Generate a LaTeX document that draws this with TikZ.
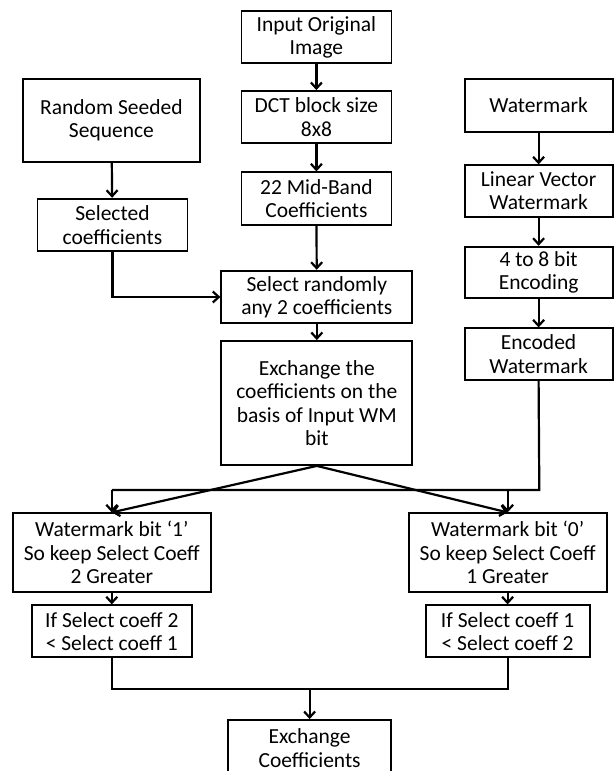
\documentclass[tikz,border=0pt]{standalone}
\usepackage{fontspec}
\setmainfont{Carlito}
\usetikzlibrary{arrows.meta}

\begin{document}
\begin{tikzpicture}[x=1pt,y=-1pt,
box/.style={draw,line width=1.8pt,align=center,inner sep=0pt,
font=\fontsize{21.5}{23.3}\selectfont},
arr/.style={line width=2.2pt,-{Straight Barb[length=6pt,width=11pt]}},
lin/.style={line width=2.2pt}
]
\useasboundingbox (0,0) rectangle (614,771);
% centre column
\node[box,minimum width=150,minimum height=52] (input) at (316.4,37.2) {Input Original\\Image};
\node[box,minimum width=150,minimum height=52] (dct) at (316.4,117) {DCT block size\\8x8};
\node[box,minimum width=150,minimum height=53] (band) at (316.4,198.8) {22 Mid-Band\\Coefficients};
\node[box,minimum width=191,minimum height=52.6] (selrand) at (316.8,297) {Select randomly\\any 2 coefficients};
\node[box,minimum width=191,minimum height=124] (exch) at (316.8,403) {Exchange the\\coefficients on the\\basis of Input WM\\bit};
% left column
\node[box,minimum width=177,minimum height=82.4] (seed) at (111.4,120.5) {Random Seeded\\Sequence};
\node[box,minimum width=150,minimum height=52.6] (selcoef) at (112.4,225) {Selected\\coefficients};
% right column
\node[box,minimum width=148,minimum height=52.4] (wm) at (538.6,105.5) {Watermark};
\node[box,minimum width=148,minimum height=51.4] (linwm) at (538.6,191) {Linear Vector\\Watermark};
\node[box,minimum width=148,minimum height=51.6] (enc) at (538.6,272.5) {4 to 8 bit\\Encoding};
\node[box,minimum width=148,minimum height=51.7] (encwm) at (538.6,354.2) {Encoded\\Watermark};
% lower part
\node[box,minimum width=198,minimum height=78.4] (bitone) at (111.8,552.5) {Watermark bit ‘1’\\So keep Select Coeff\\2 Greater};
\node[box,minimum width=198,minimum height=78.4] (bitzero) at (507.6,552.5) {Watermark bit ‘0’\\So keep Select Coeff\\1 Greater};
\node[box,minimum width=160,minimum height=52] (iftwo) at (111.8,631.3) {If Select coeff 2\\< Select coeff 1};
\node[box,minimum width=164,minimum height=52] (ifone) at (507.6,631.3) {If Select coeff 1\\< Select coeff 2};
\node[box,minimum width=163,minimum height=56] (exco) at (309.6,748) {Exchange\\Coefficients};

\coordinate (wmjoin) at (539.3,490);
\coordinate (bitjoin) at (309.6,689);

\draw[arr] (input) -- (dct);
\draw[arr] (dct) -- (band);
\draw[arr] (band) -- (selrand);
\draw[arr] (selrand) -- (exch);
\draw[arr] (seed) -- (selcoef);
\draw[arr] (selcoef.south) |- (selrand.west);
\draw[arr] (wm) -- (linwm);
\draw[arr] (linwm) -- (enc);
\draw[arr] (enc) -- (encwm);
\draw[lin] (encwm.south) -- (wmjoin) -- (wmjoin -| bitone.north);
\draw[arr] (wmjoin -| bitone.north) -- (bitone.north);
\draw[arr] (wmjoin -| bitzero.north) -- (bitzero.north);
\draw[arr] (exch.south) -- (bitone.north);
\draw[arr] (exch.south) -- (bitzero.north);
\draw[arr] (bitone) -- (iftwo);
\draw[arr] (bitzero) -- (ifone);
\draw[lin] (iftwo.south) |- (bitjoin) -| (ifone.south);
\draw[arr] (bitjoin) -- (exco.north);
\end{tikzpicture}
\end{document}
